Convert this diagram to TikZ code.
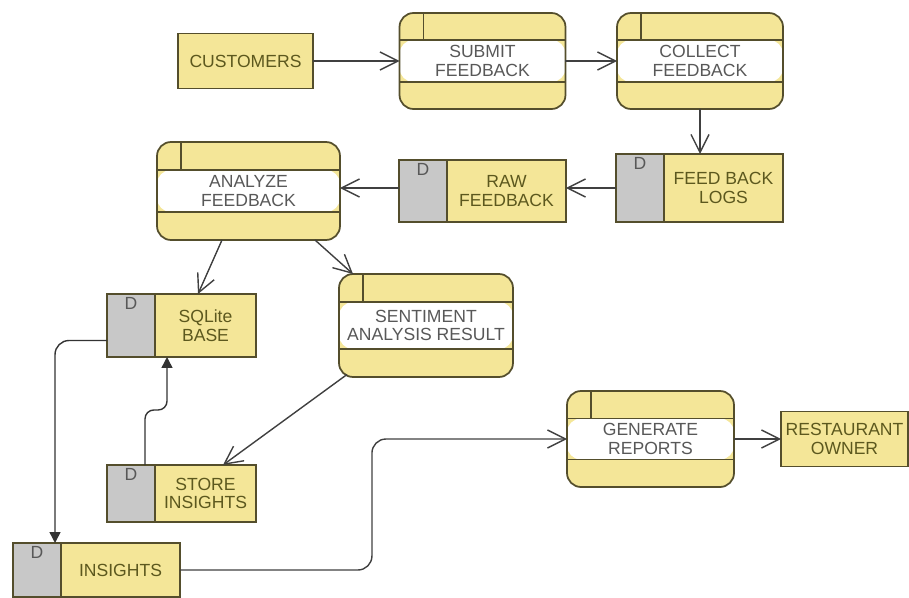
\documentclass[tikz,border=0pt]{standalone}
\usepackage{fontspec}
\setmainfont{Liberation Sans}
\usetikzlibrary{arrows.meta, positioning}
\definecolor{dfdfill}{RGB}{244,230,152}
\definecolor{dfdgrey}{RGB}{200,200,200}
\definecolor{dfdline}{RGB}{84,78,44}
\definecolor{proctext}{RGB}{88,88,88}
\definecolor{storetext}{RGB}{92,88,30}
\tikzset{
  procbox/.style={
    rectangle, rounded corners=0.28cm, outer sep=0pt, inner sep=0pt,
    align=center, font=\fontsize{10}{10.5}\selectfont,
    draw=dfdline, line width=1pt, fill=dfdfill, text=proctext,
    path picture={
      \fill[white]([yshift=#1]path picture bounding box.west)rectangle
                  ([yshift=-#1]path picture bounding box.east);
      \draw[dfdline,line width=1pt]([yshift=#1]path picture bounding box.west)--
                  ([yshift=#1]path picture bounding box.east);
      \draw[dfdline,line width=1pt]([yshift=-#1]path picture bounding box.west)--
                  ([yshift=-#1]path picture bounding box.east);
      \draw[dfdline,line width=1pt]([xshift=0.48cm]path picture bounding box.north west)--
                  ([xshift=0.48cm,yshift=#1]path picture bounding box.west);
    }
  },
  procbox/.default=0.42cm,
  storebox/.style={
    rectangle, outer sep=0pt, inner sep=1pt,
    align=center, font=\fontsize{10}{10.5}\selectfont,
    draw=dfdline, line width=1pt, fill=dfdfill, text=storetext
  },
  storetab/.style={
    rectangle, outer sep=0pt, minimum width=0.96cm,
    draw=dfdline, line width=1pt, fill=dfdgrey,
    label={[anchor=north,inner sep=2pt,text=proctext,
            font=\fontsize{10}{10}\selectfont]north:D}
  },
  flowarrow/.style={-{Straight Barb[length=3.6mm,width=3.6mm]}, line width=0.8pt,
    color=black!75},
  fillarrow/.style={-{Triangle[length=2.2mm,width=2.2mm]}, line width=0.8pt,
    color=black!80},
}
\begin{document}
\begin{tikzpicture}[x=0.02cm,y=-0.02cm]
  \useasboundingbox (0,0) rectangle (909,598);
  \node[storebox,minimum width=2.7cm,minimum height=1.1cm](cust)at(245.5,61){CUSTOMERS};
  \node[procbox,minimum width=3.32cm,minimum height=1.92cm](submit)at(482.5,61){SUBMIT\\FEEDBACK};
  \node[procbox,minimum width=3.32cm,minimum height=1.92cm](collect)at(700,61){COLLECT\\FEEDBACK};
  \node[storebox,minimum width=2.38cm,minimum height=1.36cm](logs)at(723.5,188){FEED BACK\\LOGS};
  \node[storetab,minimum height=1.36cm,left=0pt of logs](logsD){};
  \node[storebox,minimum width=2.38cm,minimum height=1.24cm](raw)at(506.5,191){RAW\\FEEDBACK};
  \node[storetab,minimum height=1.24cm,left=0pt of raw](rawD){};
  \node[procbox,minimum width=3.66cm,minimum height=1.96cm](analyze)at(248.5,191){ANALYZE\\FEEDBACK};
  \node[storebox,minimum width=2.02cm,minimum height=1.26cm](sql)at(205.5,325.5){SQLite\\BASE};
  \node[storetab,minimum height=1.26cm,left=0pt of sql](sqlD){};
  \node[procbox=0.47cm,minimum width=3.48cm,minimum height=2.06cm](sent)at(426,325.5){SENTIMENT\\ANALYSIS RESULT};
  \node[storebox,minimum width=2.02cm,minimum height=1.14cm](store)at(205.5,493.5){STORE\\INSIGHTS};
  \node[storetab,minimum height=1.14cm,left=0pt of store](storeD){};
  \node[storebox,minimum width=2.38cm,minimum height=1.08cm](ins)at(120.5,570){INSIGHTS};
  \node[storetab,minimum height=1.08cm,left=0pt of ins](insD){};
  \node[procbox=0.41cm,minimum width=3.34cm,minimum height=1.92cm](gen)at(650.5,439){GENERATE\\REPORTS};
  \node[storebox,minimum width=2.54cm,minimum height=1.1cm](owner)at(844.5,439){RESTAURANT\\OWNER};
  \draw[flowarrow](cust.east)--(submit.west);
  \draw[flowarrow](submit.east)--(collect.west);
  \draw[flowarrow](collect.south)--(collect.south|-logs.north);
  \draw[flowarrow](logsD.west)--(logsD.west-|raw.east);
  \draw[flowarrow](rawD.west|-logsD.west)--(analyze.east|-logsD.west);
  \draw[flowarrow]([xshift=-0.53cm]analyze.south)--([xshift=-0.15cm]sql.north);
  \draw[flowarrow]([xshift=1.33cm]analyze.south)--([xshift=-1.46cm]sent.north);
  \draw[flowarrow]([xshift=-1.58cm,yshift=0.05cm]sent.south)--([xshift=0.35cm]store.north);
  \draw[fillarrow,rounded corners=5pt]([xshift=0.28cm]storeD.north)|-
       ([xshift=-0.77cm,yshift=-1.06cm]sql.south)--([xshift=-0.77cm]sql.south);
  \draw[fillarrow,rounded corners=8pt]([yshift=-0.3cm]sqlD.west)-|([xshift=0.36cm]insD.north);
  \draw[flowarrow,rounded corners=8pt](ins.east)--++(3.84cm,0)|-(gen.west);
  \draw[flowarrow](gen.east)--(owner.west);
\end{tikzpicture}
\end{document}
